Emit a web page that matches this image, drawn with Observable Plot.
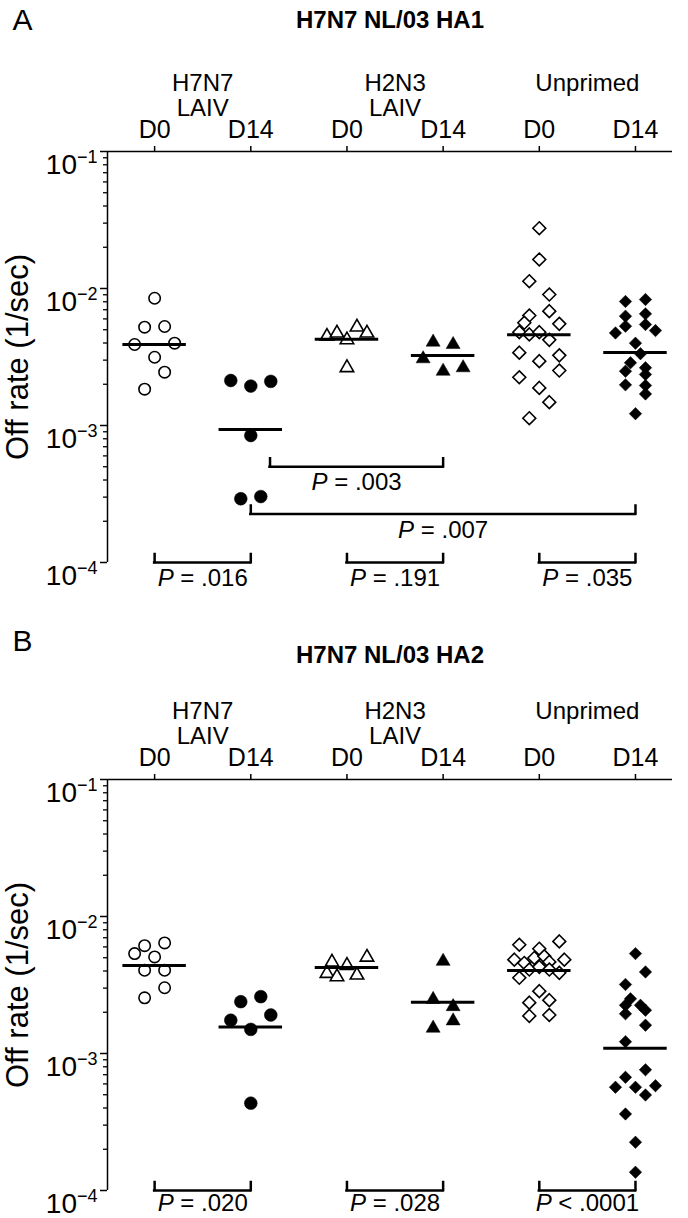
<!DOCTYPE html>
<html><head><meta charset="utf-8">
<script src="https://cdn.jsdelivr.net/npm/d3@7"></script>
<script src="https://cdn.jsdelivr.net/npm/@observablehq/plot@0.6"></script>
<style>
body{margin:0;background:#fff;overflow:hidden;}
#chart svg{display:block;}
</style></head><body><div id="chart"></div>
<script>
// ---- categories / labels ----
const groups = [0, 1, 2, 3, 4, 5];
const dayLabels = ["D0", "D14", "D0", "D14", "D0", "D14"];
const groupLine1 = ["H7N7", "H2N3", "Unprimed"];
const groupLine2 = ["LAIV", "LAIV", ""];
const groupCenters = [0.5, 2.5, 4.5];
const panelLetters = ["A", "B"];
const panelTitles = ["H7N7 NL/03 HA1", "H7N7 NL/03 HA2"];
const yLabel = "Off rate (1/sec)";
const majorTicks = [1e-4, 1e-3, 1e-2, 1e-1];

// ---- Panel A: off rates (1/sec) and horizontal slot of each point ----
const a0 = [0.00849, 0.00522, 0.00528, 0.0039, 0.00399, 0.00315, 0.00245, 0.00184];
const a0Col = [0, -1, 1, -2, 2, 0, 1, -1];
const a1 = [0.00213, 0.00194, 0.0021, 0.000845, 0.000292, 0.000303];
const a1Col = [-2, 0, 2, 0, -1, 1];
const a2 = [0.00447, 0.00472, 0.00422, 0.00522, 0.00472, 0.00264];
const a2Col = [-2, -1, 0, 1, 2, 0];
const a3 = [0.00406, 0.0039, 0.00307, 0.00249, 0.00264];
const a3Col = [-1, 1, -2, 0, 2];
const a4 = [0.02754, 0.01629, 0.0113, 0.00904, 0.00683, 0.00635, 0.00552, 0.00562, 0.0048, 0.00462,
            0.0048, 0.00422, 0.0034, 0.00325, 0.00295, 0.00252, 0.00225, 0.00188, 0.00148, 0.00113];
const a4Col = [0, 0, -1, 1, 1, -1, 2, -1.5, -2, -1, 0, 1, -2, 2, 0, 2, -2, 0, 1, -1];
const a5 = [0.00804, 0.00831, 0.00628, 0.00653, 0.00531, 0.00546, 0.00474, 0.00493, 0.00399,
            0.00334, 0.00287, 0.00249, 0.00264, 0.00236, 0.00198, 0.00196, 0.0017, 0.00122];
const a5Col = [-1, 1, -1, 1, -1, 1, -2, 2, 0, 0.5, -0.5, -1, 1, 1, -1, 1, 1, 0];
const aMeans = [0.0039, 0.000935, 0.00426, 0.00324, 0.00459, 0.00341];
const aBrFrom = [0, 2, 4, 1.2, 1];
const aBrTo = [1, 3, 5, 3, 5];
const aBrLevel = [1e-4, 1e-4, 1e-4, 5e-4, 2.26e-4];
const aBrLabel = ["P = .016", "P = .191", "P = .035", "P = .003", "P = .007"];

// ---- Panel B ----
const b0 = [0.00612, 0.00641, 0.00536, 0.00507, 0.00405, 0.00405, 0.00302, 0.00255];
const b0Col = [-1, 1, -2, 0, -1, 1, 1, -1];
const b1 = [0.00239, 0.0026, 0.00175, 0.00191, 0.0015, 0.000434];
const b1Col = [-1, 1, -2, 2, 0, 0];
const b2 = [0.00464, 0.00439, 0.00504, 0.00384, 0.00363, 0.00373];
const b2Col = [-1.5, 0, 2, -2, -1, 1];
const b3 = [0.00471, 0.00248, 0.0022, 0.00173, 0.00153];
const b3Col = [0, -1, 1, 1, -1];
const b4 = [0.00658, 0.00622, 0.00582, 0.00484, 0.00484, 0.00498, 0.00512, 0.00466, 0.00458, 0.0041,
            0.00429, 0.0041, 0.00388, 0.00357, 0.00285, 0.00235, 0.00245, 0.00188, 0.00191];
const b4Col = [2, -2, 0, -2.5, 2.5, -0.5, 0.5, 1, -1.5, -1, 0, 1, 2, -2, 0, -1, 1, -1, 1];
const b5 = [0.00536, 0.00394, 0.00319, 0.00251, 0.00225, 0.00225, 0.00207, 0.00195, 0.00161, 0.00122,
            0.00076, 0.00067, 0.000567, 0.000567, 0.000582, 0.000498, 0.000362, 0.000225, 0.000136];
const b5Col = [0, 1, -1, -0.5, -1, 0.5, 1, -1, 1, -1, 1, -1, -2, 0, 2, 1, -1, 0, 0];
const bMeans = [0.00439, 0.00156, 0.00425, 0.00237, 0.00403, 0.00109];
const bBrFrom = [0, 2, 4];
const bBrTo = [1, 3, 5];
const bBrLevel = [1e-4, 1e-4, 1e-4];
const bBrLabel = ["P = .020", "P = .028", "P < .0001"];

// ---- styling ----
const FONT = "'Liberation Sans', Arial, Helvetica, sans-serif";
const symbolOf = ["circle", "circle", "triangle", "triangle", "diamond2", "diamond2"];
const filledOf = [false, true, false, true, false, true];
const sizeOf = [5.7, 6.4, 5.0, 5.2, 5.8, 5.6];
const xDomain = [-0.49, 5.385];
const COL = 0.104;   // width of one jitter slot in x units
const HALF = 0.33;   // half-length of mean bar

function panel(p) {
  const pts = p.vals.map((arr, g) => arr.map((v, i) => ({g, v, x: g + p.cols[g][i] * COL})));
  const means = p.means.map((v, g) => ({g, v}));
  const br = p.brFrom.map((f, i) => ({x1: f, x2: p.brTo[i], y: p.brLevel[i], label: p.brLabel[i]}));
  const ends = br.flatMap(d => [{x: d.x1, y: d.y}, {x: d.x2, y: d.y}]);
  const minors = [-4, -3, -2].flatMap(e => [2, 3, 4, 5, 6, 7, 8, 9].map(k => k * Math.pow(10, e)));
  const groupText = groupLine1.map((l, i) => l + "\n" + groupLine2[i]);

  const node = Plot.plot({
    width: 688, height: p.height,
    marginTop: 151, marginLeft: 107, marginRight: 16, marginBottom: p.marginBottom,
    x: {type: "linear", domain: xDomain},
    y: {type: "log", domain: [1e-4, 1e-1]},
    style: {fontFamily: FONT, fontSize: "25px", color: "#000", background: "#fff", overflow: "visible"},
    marks: [
      Plot.ruleY([1e-1], {stroke: "#000", strokeWidth: 1.5}),
      Plot.ruleX([xDomain[0]], {stroke: "#000", strokeWidth: 1.5}),
      Plot.axisY({ticks: majorTicks, tickSize: 7, tickPadding: 3, strokeWidth: 1.5, fontSize: 28,
                  tickFormat: d => "10^" + Math.round(Math.log10(d)), label: null}),
      Plot.axisY({ticks: minors, tickSize: 4, strokeWidth: 1.3, tickFormat: () => "", label: null}),
      Plot.axisX({anchor: "top", ticks: groups, tickSize: 6, tickPadding: 8, strokeWidth: 1.5, fontSize: 25,
                  tickFormat: i => dayLabels[i], label: null}),
      Plot.text([p.letter], {text: d => d, frameAnchor: "top-left", dx: -95, dy: p.letterDy, lineAnchor: "middle", textAnchor: "start", fontSize: 30}),
      Plot.text([p.title], {text: d => d, frameAnchor: "top", dy: p.titleDy, lineAnchor: "middle", fontWeight: "bold", fontSize: 24}),
      Plot.text(groupCenters, {x: d => d, text: (d, i) => groupText[i], frameAnchor: "top", dy: -56, lineAnchor: "middle", lineHeight: 1.04, fontSize: 24}),
      Plot.text([yLabel], {text: d => d, frameAnchor: "left", rotate: -90, dx: -89, textAnchor: "middle", lineAnchor: "middle", fontSize: 31}),
      ...pts.map((arr, g) => Plot.dot(arr, {
        x: "x", y: "v", symbol: symbolOf[g], r: sizeOf[g],
        fill: filledOf[g] ? "#000" : "#fff", stroke: "#000", strokeWidth: filledOf[g] ? 0.5 : 1.6
      })),
      Plot.ruleY(means, {y: "v", x1: d => d.g - HALF, x2: d => d.g + HALF, stroke: "#000", strokeWidth: 3}),
      Plot.ruleY(br, {y: "y", x1: "x1", x2: "x2", stroke: "#000", strokeWidth: 2.5, strokeLinecap: "square"}),
      Plot.ruleX(ends, {x: "x", y1: "y", y2: "y", insetBottom: 8, stroke: "#000", strokeWidth: 2.5, strokeLinecap: "square"}),
      Plot.text(br, {x: d => (d.x1 + d.x2) / 2, y: "y", text: "label", dy: p.labelDy, fontSize: 24})
    ]
  });

  const svg = d3.select(node);
  // italic P in the p-value labels
  svg.selectAll("text").filter(function () {
    return /^P [=<]/.test(this.textContent) && this.childElementCount === 0;
  }).each(function () {
    const t = this.textContent;
    const s = d3.select(this).text(null);
    s.append("tspan").attr("font-style", "italic").text(t[0]);
    s.append("tspan").text(t.slice(1));
  });
  // superscript exponents on the y tick labels
  svg.selectAll("text").filter(function () {
    return /^10\^/.test(this.textContent);
  }).each(function () {
    const [base, exp] = this.textContent.split("^");
    const s = d3.select(this).text(null).attr("dy", "0.5em");
    s.append("tspan").text(base);
    s.append("tspan").attr("font-size", "18px").attr("dy", "-0.62em").text(exp.replace("-", "\u2212"));
  });
  return node;
}

const chart = document.getElementById("chart");
chart.appendChild(panel({
  vals: [a0, a1, a2, a3, a4, a5], cols: [a0Col, a1Col, a2Col, a3Col, a4Col, a5Col],
  means: aMeans, brFrom: aBrFrom, brTo: aBrTo, brLevel: aBrLevel, brLabel: aBrLabel,
  title: panelTitles[0], letter: panelLetters[0], height: 628, marginBottom: 66,
  letterDy: -131, titleDy: -131, labelDy: 16
}));
chart.appendChild(panel({
  vals: [b0, b1, b2, b3, b4, b5], cols: [b0Col, b1Col, b2Col, b3Col, b4Col, b5Col],
  means: bMeans, brFrom: bBrFrom, brTo: bBrTo, brLevel: bBrLevel, brLabel: bBrLabel,
  title: panelTitles[1], letter: panelLetters[1], height: 590, marginBottom: 28,
  letterDy: -138, titleDy: -124, labelDy: 13
}));
</script>
</body></html>
